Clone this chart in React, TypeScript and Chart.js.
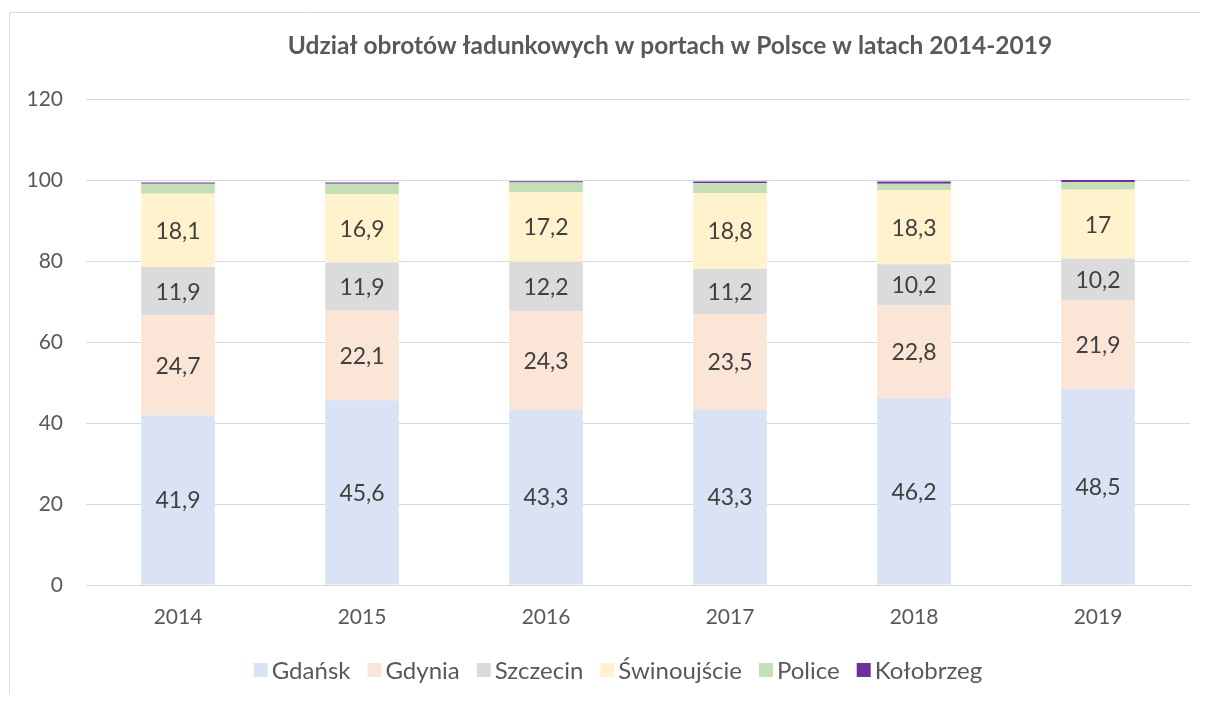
import React, { useEffect, useRef } from "react";
import { Chart, registerables } from "chart.js";

Chart.register(...registerables);

const years = ["2014", "2015", "2016", "2017", "2018", "2019"];
const gdansk = [41.9, 45.6, 43.3, 43.3, 46.2, 48.5];
const gdynia = [24.7, 22.1, 24.3, 23.5, 22.8, 21.9];
const szczecin = [11.9, 11.9, 12.2, 11.2, 10.2, 10.2];
const swinoujscie = [18.1, 16.9, 17.2, 18.8, 18.3, 17];
const police = [2.5, 2.6, 2.4, 2.4, 1.6, 1.9];
const kolobrzeg = [0.3, 0.3, 0.3, 0.4, 0.5, 0.5];
const yTicks = [0, 20, 40, 60, 80, 100, 120];

const seriesNames = ["Gdańsk", "Gdynia", "Szczecin", "Świnoujście", "Police", "Kołobrzeg"];
const seriesColors = ["#DAE3F3", "#FBE5D6", "#DBDBDB", "#FFF2CC", "#C5E0B4", "#7030A0"];
const labelled = [true, true, true, true, false, false];
const title = "Udział obrotów ładunkowych w portach w Polsce w latach 2014-2019";

const FONT = "Lato, 'Open Sans', sans-serif";

export default function App() {
  const ref = useRef<HTMLCanvasElement | null>(null);
  useEffect(() => {
    const canvas = ref.current;
    if (!canvas) return;
    const values = [gdansk, gdynia, szczecin, swinoujscie, police, kolobrzeg];

    const decor = {
      id: "decor",
      beforeDraw(chart: any) {
        const ctx = chart.ctx;
        ctx.save();
        ctx.fillStyle = "#ffffff";
        ctx.fillRect(0, 0, chart.width, chart.height);
        ctx.strokeStyle = "#D9D9D9";
        ctx.lineWidth = 1;
        ctx.beginPath();
        ctx.moveTo(1.5, chart.height + 5);
        ctx.lineTo(1.5, 4.5);
        ctx.lineTo(chart.width + 5, 4.5);
        ctx.stroke();
        ctx.restore();
      },
      afterDraw(chart: any) {
        const ctx = chart.ctx;
        ctx.save();
        // title
        ctx.font = `bold 24.5px ${FONT}`;
        ctx.fillStyle = "#595959";
        ctx.textAlign = "center";
        ctx.textBaseline = "middle";
        ctx.fillText(title, 662, 38);
        // data labels
        ctx.font = `23px ${FONT}`;
        ctx.fillStyle = "#404040";
        chart.data.datasets.forEach((ds: any, i: number) => {
          if (!labelled[i]) return;
          const meta = chart.getDatasetMeta(i);
          meta.data.forEach((bar: any, j: number) => {
            const v = ds.data[j];
            const yc = (bar.y + bar.base) / 2;
            ctx.fillText(String(v).replace(".", ","), bar.x, yc + 1);
          });
        });
        // legend
        ctx.font = `24px ${FONT}`;
        ctx.textAlign = "left";
        const box = 14;
        const gapBoxText = 4;
        const gapItems = 17;
        const widths = seriesNames.map((n) => box + gapBoxText + ctx.measureText(n).width);
        const total = widths.reduce((a, b) => a + b, 0) + gapItems * (widths.length - 1);
        let x = 610 - total / 2;
        const ly = 662;
        seriesNames.forEach((n, i) => {
          ctx.fillStyle = seriesColors[i];
          ctx.fillRect(x, ly - box / 2, box, box);
          ctx.fillStyle = "#595959";
          ctx.fillText(n, x + box + gapBoxText, ly + 1);
          x += widths[i] + gapItems;
        });
        ctx.restore();
      },
    };

    const chart = new Chart(canvas, {
      type: "bar",
      data: {
        labels: years,
        datasets: seriesNames.map((name, i) => ({
          label: name,
          data: values[i],
          backgroundColor: seriesColors[i],
          borderWidth: 0,
          barPercentage: 0.4,
          categoryPercentage: 1,
        })),
      },
      options: {
        animation: false,
        responsive: false,
        maintainAspectRatio: false,
        layout: { padding: { top: 91, right: 10, left: 0, bottom: 0 } },
        plugins: {
          legend: { display: false },
          title: { display: false },
          tooltip: { enabled: false },
        },
        scales: {
          x: {
            stacked: true,
            grid: { display: false, drawTicks: false },
            border: { display: true, color: "#D9D9D9", width: 1 },
            ticks: { color: "#595959", font: { family: FONT, size: 21 }, padding: 20 },
            afterFit: (s: any) => {
              s.height = 109;
            },
          },
          y: {
            stacked: true,
            min: 0,
            max: 120,
            afterBuildTicks: (s: any) => {
              s.ticks = yTicks.map((v) => ({ value: v }));
            },
            grid: { color: "#D9D9D9", drawTicks: false },
            border: { display: false },
            ticks: { color: "#595959", font: { family: FONT, size: 21 }, padding: 23 },
            afterFit: (s: any) => {
              s.width = 78;
            },
          },
        },
      },
      plugins: [decor],
    });
    return () => chart.destroy();
  }, []);
  return (
    <div style={{ width: 1192, height: 686, position: "relative" }}>
      <canvas ref={ref} width={1192} height={686} style={{ display: "block" }} />
    </div>
  );
}
